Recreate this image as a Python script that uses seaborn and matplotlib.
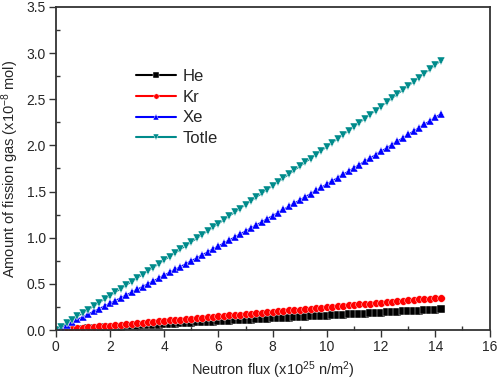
import numpy as np
import pandas as pd
import matplotlib
matplotlib.use("Agg")
import matplotlib.pyplot as plt
from matplotlib.ticker import MultipleLocator
import seaborn as sns

flux = [0.0, 0.2, 0.4, 0.6, 0.8, 1.0, 1.2, 1.4, 1.6, 1.8,
        2.0, 2.2, 2.4, 2.6, 2.8, 3.0, 3.2, 3.4, 3.6, 3.8,
        4.0, 4.2, 4.4, 4.6, 4.8, 5.0, 5.2, 5.4, 5.6, 5.8,
        6.0, 6.2, 6.4, 6.6, 6.8, 7.0, 7.2, 7.4, 7.6, 7.8,
        8.0, 8.2, 8.4, 8.6, 8.8, 9.0, 9.2, 9.4, 9.6, 9.8,
        10.0, 10.2, 10.4, 10.6, 10.8, 11.0, 11.2, 11.4, 11.6, 11.8,
        12.0, 12.2, 12.4, 12.6, 12.8, 13.0, 13.2, 13.4, 13.6, 13.8,
        14.0, 14.2]

he = [0.000, 0.003, 0.006, 0.009, 0.013, 0.016, 0.019, 0.022, 0.025, 0.028,
      0.031, 0.035, 0.038, 0.041, 0.044, 0.047, 0.050, 0.053, 0.057, 0.060,
      0.063, 0.066, 0.069, 0.072, 0.075, 0.079, 0.082, 0.085, 0.088, 0.091,
      0.094, 0.097, 0.100, 0.104, 0.107, 0.110, 0.113, 0.116, 0.119, 0.122,
      0.126, 0.129, 0.132, 0.135, 0.138, 0.141, 0.144, 0.148, 0.151, 0.154,
      0.157, 0.160, 0.163, 0.166, 0.170, 0.173, 0.176, 0.179, 0.182, 0.185,
      0.188, 0.192, 0.195, 0.198, 0.201, 0.204, 0.207, 0.210, 0.214, 0.217,
      0.220, 0.223]

kr = [0.000, 0.005, 0.010, 0.015, 0.020, 0.025, 0.030, 0.035, 0.040, 0.044,
      0.049, 0.054, 0.059, 0.064, 0.069, 0.074, 0.079, 0.084, 0.089, 0.094,
      0.099, 0.104, 0.109, 0.114, 0.119, 0.124, 0.128, 0.133, 0.138, 0.143,
      0.148, 0.153, 0.158, 0.163, 0.168, 0.173, 0.178, 0.183, 0.188, 0.193,
      0.198, 0.203, 0.207, 0.212, 0.217, 0.222, 0.227, 0.232, 0.237, 0.242,
      0.247, 0.252, 0.257, 0.262, 0.267, 0.272, 0.277, 0.282, 0.287, 0.291,
      0.296, 0.301, 0.306, 0.311, 0.316, 0.321, 0.326, 0.331, 0.336, 0.341,
      0.346, 0.351]

xe = [0.000, 0.028, 0.057, 0.086, 0.115, 0.144, 0.173, 0.202, 0.231, 0.261,
      0.290, 0.320, 0.350, 0.380, 0.410, 0.440, 0.471, 0.501, 0.532, 0.563,
      0.594, 0.625, 0.656, 0.687, 0.719, 0.750, 0.782, 0.814, 0.846, 0.878,
      0.910, 0.942, 0.975, 1.007, 1.040, 1.073, 1.106, 1.139, 1.172, 1.206,
      1.239, 1.273, 1.306, 1.340, 1.374, 1.408, 1.443, 1.477, 1.512, 1.546,
      1.581, 1.616, 1.651, 1.686, 1.721, 1.757, 1.792, 1.828, 1.864, 1.900,
      1.936, 1.972, 2.008, 2.045, 2.081, 2.118, 2.155, 2.192, 2.229, 2.266,
      2.304, 2.341]

totle = [0.000, 0.036, 0.073, 0.110, 0.147, 0.184, 0.221, 0.259, 0.296, 0.334,
         0.371, 0.409, 0.447, 0.485, 0.523, 0.561, 0.600, 0.638, 0.677, 0.717,
         0.756, 0.795, 0.834, 0.873, 0.913, 0.952, 0.992, 1.032, 1.072, 1.112,
         1.152, 1.192, 1.234, 1.274, 1.315, 1.356, 1.397, 1.438, 1.479, 1.521,
         1.562, 1.604, 1.645, 1.687, 1.730, 1.772, 1.815, 1.857, 1.900, 1.942,
         1.985, 2.028, 2.071, 2.114, 2.157, 2.201, 2.244, 2.289, 2.333, 2.377,
         2.421, 2.465, 2.509, 2.554, 2.598, 2.643, 2.688, 2.733, 2.778, 2.824,
         2.870, 2.915]

gases = ["He", "Kr", "Xe", "Totle"]
colors = {"He": "black", "Kr": "#ff0000", "Xe": "#0000ff", "Totle": "#008b8b"}
markers = {"He": "s", "Kr": "o", "Xe": "^", "Totle": "v"}

df = pd.concat([
    pd.DataFrame({"flux": flux, "amount": vals, "gas": name})
    for name, vals in zip(gases, [he, kr, xe, totle])
])

sns.set_style("white")
plt.rcParams["font.family"] = ["Liberation Sans", "DejaVu Sans"]
plt.rcParams["mathtext.default"] = "regular"

fig = plt.figure(figsize=(4.98, 3.82), dpi=100)
ax = fig.add_axes([0.112, 0.136, 0.871, 0.846])

sns.lineplot(data=df, x="flux", y="amount", hue="gas", style="gas",
             hue_order=gases, style_order=gases, palette=colors,
             markers=markers, dashes=False, markersize=5.5,
             markeredgewidth=0.3, linewidth=1.0, ax=ax)

ax.set_xlim(0, 16)
ax.set_ylim(0, 3.5)
ax.xaxis.set_major_locator(MultipleLocator(2))
ax.xaxis.set_minor_locator(MultipleLocator(1))
ax.yaxis.set_major_locator(MultipleLocator(0.5))
ax.yaxis.set_minor_locator(MultipleLocator(0.25))
ax.yaxis.set_major_formatter(matplotlib.ticker.FormatStrFormatter("%.1f"))

ax.tick_params(which="major", direction="out", length=5, width=1,
               color="#333333", labelsize=10, pad=2)
ax.tick_params(which="minor", direction="in", length=3, width=1,
               color="#333333")
ax.tick_params(top=False, right=False, which="both", bottom=True, left=True)
for s in ax.spines.values():
    s.set_color("#333333")
    s.set_linewidth(1.3)

ax.set_xlabel("Neutron flux (x10$^{25}$ n/m$^2$)", fontsize=10.5, labelpad=4)
ax.set_ylabel("Amount of fission gas (x10$^{-8}$ mol)", fontsize=10.5, labelpad=4)

leg = ax.legend(title=None, frameon=False, loc="upper left",
                bbox_to_anchor=(0.15, 0.855), fontsize=12, handlelength=2.4,
                labelspacing=0.35, handletextpad=0.4, markerscale=0.7)
for h in leg.get_lines():
    h.set_linewidth(1.5)

fig.savefig("out.png", dpi=100)
